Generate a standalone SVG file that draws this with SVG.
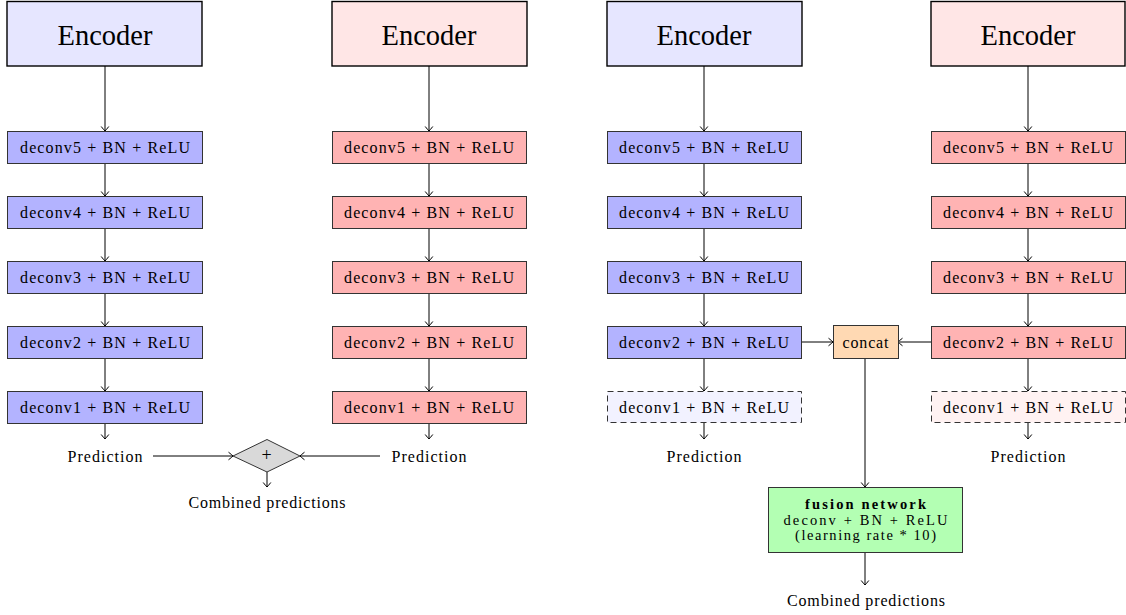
<svg xmlns="http://www.w3.org/2000/svg" width="1126" height="615" viewBox="0 0 1126 615" font-family="'Liberation Serif', 'Times New Roman', serif">
<style>
text{fill:#000;text-anchor:middle;dominant-baseline:central}
.enc{font-size:28.5px}
.sm{font-size:16px}
.lbl{font-size:16px}
.fu{font-size:14.5px}
.b{stroke:#000;stroke-width:1.4}
.n{stroke:#333;stroke-width:1}
.blue10{fill:#e6e6ff}.red10{fill:#ffe6e6}
.blue30{fill:#b3b3ff}.red30{fill:#ffb3b3}
.blue5{fill:#f2f2ff}.red5{fill:#fff2f2}
.dash{stroke:#333;stroke-width:1;stroke-dasharray:6,4}
.c line{stroke:#000;stroke-width:1;fill:none}
</style>
<defs>
<marker id="ar" markerWidth="10" markerHeight="10" viewBox="-6 -5 7 10" refX="0" refY="0" orient="auto" markerUnits="userSpaceOnUse">
<path d="M-4.5,-3.8 Q-1.2,-1.2 0,0 Q-1.2,1.2 -4.5,3.8" fill="none" stroke="#000" stroke-width="1"/>
</marker>
</defs>
<g class="c" id="connectors">
<line x1="105" y1="66" x2="105" y2="131" marker-end="url(#ar)"/>
<line x1="105" y1="163" x2="105" y2="196" marker-end="url(#ar)"/>
<line x1="105" y1="228" x2="105" y2="261" marker-end="url(#ar)"/>
<line x1="105" y1="293" x2="105" y2="326" marker-end="url(#ar)"/>
<line x1="105" y1="358" x2="105" y2="391" marker-end="url(#ar)"/>
<line x1="105" y1="423" x2="105" y2="439" marker-end="url(#ar)"/>
<line x1="429" y1="66" x2="429" y2="131" marker-end="url(#ar)"/>
<line x1="429" y1="163" x2="429" y2="196" marker-end="url(#ar)"/>
<line x1="429" y1="228" x2="429" y2="261" marker-end="url(#ar)"/>
<line x1="429" y1="293" x2="429" y2="326" marker-end="url(#ar)"/>
<line x1="429" y1="358" x2="429" y2="391" marker-end="url(#ar)"/>
<line x1="429" y1="423" x2="429" y2="439" marker-end="url(#ar)"/>
<line x1="153" y1="456" x2="233" y2="456" marker-end="url(#ar)"/>
<line x1="380" y1="456" x2="300" y2="456" marker-end="url(#ar)"/>
<line x1="267" y1="472" x2="267" y2="487" marker-end="url(#ar)"/>
<line x1="704" y1="66" x2="704" y2="131" marker-end="url(#ar)"/>
<line x1="704" y1="163" x2="704" y2="196" marker-end="url(#ar)"/>
<line x1="704" y1="228" x2="704" y2="261" marker-end="url(#ar)"/>
<line x1="704" y1="293" x2="704" y2="326" marker-end="url(#ar)"/>
<line x1="704" y1="358" x2="704" y2="391" marker-end="url(#ar)"/>
<line x1="704" y1="423" x2="704" y2="439" marker-end="url(#ar)"/>
<line x1="1028" y1="66" x2="1028" y2="131" marker-end="url(#ar)"/>
<line x1="1028" y1="163" x2="1028" y2="196" marker-end="url(#ar)"/>
<line x1="1028" y1="228" x2="1028" y2="261" marker-end="url(#ar)"/>
<line x1="1028" y1="293" x2="1028" y2="326" marker-end="url(#ar)"/>
<line x1="1028" y1="358" x2="1028" y2="391" marker-end="url(#ar)"/>
<line x1="1028" y1="423" x2="1028" y2="439" marker-end="url(#ar)"/>
<line x1="801" y1="342" x2="833" y2="342" marker-end="url(#ar)"/>
<line x1="932" y1="342" x2="898" y2="342" marker-end="url(#ar)"/>
<line x1="865" y1="358" x2="865" y2="487" marker-end="url(#ar)"/>
<line x1="865" y1="552" x2="865" y2="585" marker-end="url(#ar)"/>
</g>
<g id="enc1"><rect x="7" y="1.5" width="195" height="64.5" class="blue10 b"/><text x="105" y="35" class="enc">Encoder</text></g>
<g id="enc2"><rect x="332" y="1.5" width="195" height="64.5" class="red10 b"/><text x="429" y="35" class="enc">Encoder</text></g>
<g id="enc3"><rect x="607" y="1.5" width="195" height="64.5" class="blue10 b"/><text x="704" y="35" class="enc">Encoder</text></g>
<g id="enc4"><rect x="931" y="1.5" width="194" height="64.5" class="red10 b"/><text x="1028" y="35" class="enc">Encoder</text></g>

<g id="c1d5"><rect x="7.5" y="131.5" width="195" height="32" class="blue30 n"/><text x="105" y="147.5" class="sm" textLength="170" lengthAdjust="spacing">deconv5 + BN + ReLU</text></g>
<g id="c1d4"><rect x="7.5" y="196.5" width="195" height="32" class="blue30 n"/><text x="105" y="212.5" class="sm" textLength="170" lengthAdjust="spacing">deconv4 + BN + ReLU</text></g>
<g id="c1d3"><rect x="7.5" y="261.5" width="195" height="32" class="blue30 n"/><text x="105" y="277.5" class="sm" textLength="170" lengthAdjust="spacing">deconv3 + BN + ReLU</text></g>
<g id="c1d2"><rect x="7.5" y="326.5" width="195" height="32" class="blue30 n"/><text x="105" y="342.5" class="sm" textLength="170" lengthAdjust="spacing">deconv2 + BN + ReLU</text></g>
<g id="c1d1"><rect x="7.5" y="391.5" width="195" height="32" class="blue30 n"/><text x="105" y="407.5" class="sm" textLength="170" lengthAdjust="spacing">deconv1 + BN + ReLU</text></g>

<g id="c2d5"><rect x="332.5" y="131.5" width="194" height="32" class="red30 n"/><text x="429" y="147.5" class="sm" textLength="170" lengthAdjust="spacing">deconv5 + BN + ReLU</text></g>
<g id="c2d4"><rect x="332.5" y="196.5" width="194" height="32" class="red30 n"/><text x="429" y="212.5" class="sm" textLength="170" lengthAdjust="spacing">deconv4 + BN + ReLU</text></g>
<g id="c2d3"><rect x="332.5" y="261.5" width="194" height="32" class="red30 n"/><text x="429" y="277.5" class="sm" textLength="170" lengthAdjust="spacing">deconv3 + BN + ReLU</text></g>
<g id="c2d2"><rect x="332.5" y="326.5" width="194" height="32" class="red30 n"/><text x="429" y="342.5" class="sm" textLength="170" lengthAdjust="spacing">deconv2 + BN + ReLU</text></g>
<g id="c2d1"><rect x="332.5" y="391.5" width="194" height="32" class="red30 n"/><text x="429" y="407.5" class="sm" textLength="170" lengthAdjust="spacing">deconv1 + BN + ReLU</text></g>

<g id="c3d5"><rect x="607.5" y="131.5" width="194" height="32" class="blue30 n"/><text x="704" y="147.5" class="sm" textLength="170" lengthAdjust="spacing">deconv5 + BN + ReLU</text></g>
<g id="c3d4"><rect x="607.5" y="196.5" width="194" height="32" class="blue30 n"/><text x="704" y="212.5" class="sm" textLength="170" lengthAdjust="spacing">deconv4 + BN + ReLU</text></g>
<g id="c3d3"><rect x="607.5" y="261.5" width="194" height="32" class="blue30 n"/><text x="704" y="277.5" class="sm" textLength="170" lengthAdjust="spacing">deconv3 + BN + ReLU</text></g>
<g id="c3d2"><rect x="607.5" y="326.5" width="194" height="32" class="blue30 n"/><text x="704" y="342.5" class="sm" textLength="170" lengthAdjust="spacing">deconv2 + BN + ReLU</text></g>
<g id="c3d1"><rect x="607.5" y="391.5" width="194" height="31" class="blue5 dash"/><text x="704" y="407" class="sm" textLength="170" lengthAdjust="spacing">deconv1 + BN + ReLU</text></g>

<g id="c4d5"><rect x="931.5" y="131.5" width="194" height="32" class="red30 n"/><text x="1028" y="147.5" class="sm" textLength="170" lengthAdjust="spacing">deconv5 + BN + ReLU</text></g>
<g id="c4d4"><rect x="931.5" y="196.5" width="194" height="32" class="red30 n"/><text x="1028" y="212.5" class="sm" textLength="170" lengthAdjust="spacing">deconv4 + BN + ReLU</text></g>
<g id="c4d3"><rect x="931.5" y="261.5" width="194" height="32" class="red30 n"/><text x="1028" y="277.5" class="sm" textLength="170" lengthAdjust="spacing">deconv3 + BN + ReLU</text></g>
<g id="c4d2"><rect x="931.5" y="326.5" width="194" height="32" class="red30 n"/><text x="1028" y="342.5" class="sm" textLength="170" lengthAdjust="spacing">deconv2 + BN + ReLU</text></g>
<g id="c4d1"><rect x="931.5" y="391.5" width="194" height="31" class="red5 dash"/><text x="1028" y="407" class="sm" textLength="170" lengthAdjust="spacing">deconv1 + BN + ReLU</text></g>

<g id="pred1"><text x="105" y="456" class="lbl" textLength="75" lengthAdjust="spacing">Prediction</text></g>
<g id="pred2"><text x="429" y="456" class="lbl" textLength="75" lengthAdjust="spacing">Prediction</text></g>
<g id="pred3"><text x="704" y="456" class="lbl" textLength="75" lengthAdjust="spacing">Prediction</text></g>
<g id="pred4"><text x="1028" y="456" class="lbl" textLength="75" lengthAdjust="spacing">Prediction</text></g>

<g id="plus"><path d="M233,456 L267,439.5 L300,456 L267,472 Z" fill="#d9d9d9" stroke="#333" stroke-width="1"/><text x="266.5" y="455" style="font-size:18px">+</text></g>
<g id="comb1"><text x="267" y="502" class="lbl" textLength="157" lengthAdjust="spacing">Combined predictions</text></g>

<g id="concat"><rect x="833.5" y="325.5" width="65" height="33" fill="#ffd9b3" stroke="#333" stroke-width="1"/><text x="865.5" y="342" class="sm" textLength="46" lengthAdjust="spacing">concat</text></g>

<g id="fusion"><rect x="768.5" y="487.5" width="194" height="65" fill="#b3ffb3" stroke="#333" stroke-width="1"/>
<text x="865.5" y="504" class="fu" style="font-weight:bold" textLength="121" lengthAdjust="spacing">fusion network</text>
<text x="865.5" y="519.5" class="fu" textLength="164" lengthAdjust="spacing">deconv + BN + ReLU</text>
<text x="865.5" y="535" class="fu" textLength="141" lengthAdjust="spacing">(learning rate * 10)</text></g>
<g id="comb2"><text x="866" y="600" class="lbl" textLength="158" lengthAdjust="spacing">Combined predictions</text></g>
</svg>
